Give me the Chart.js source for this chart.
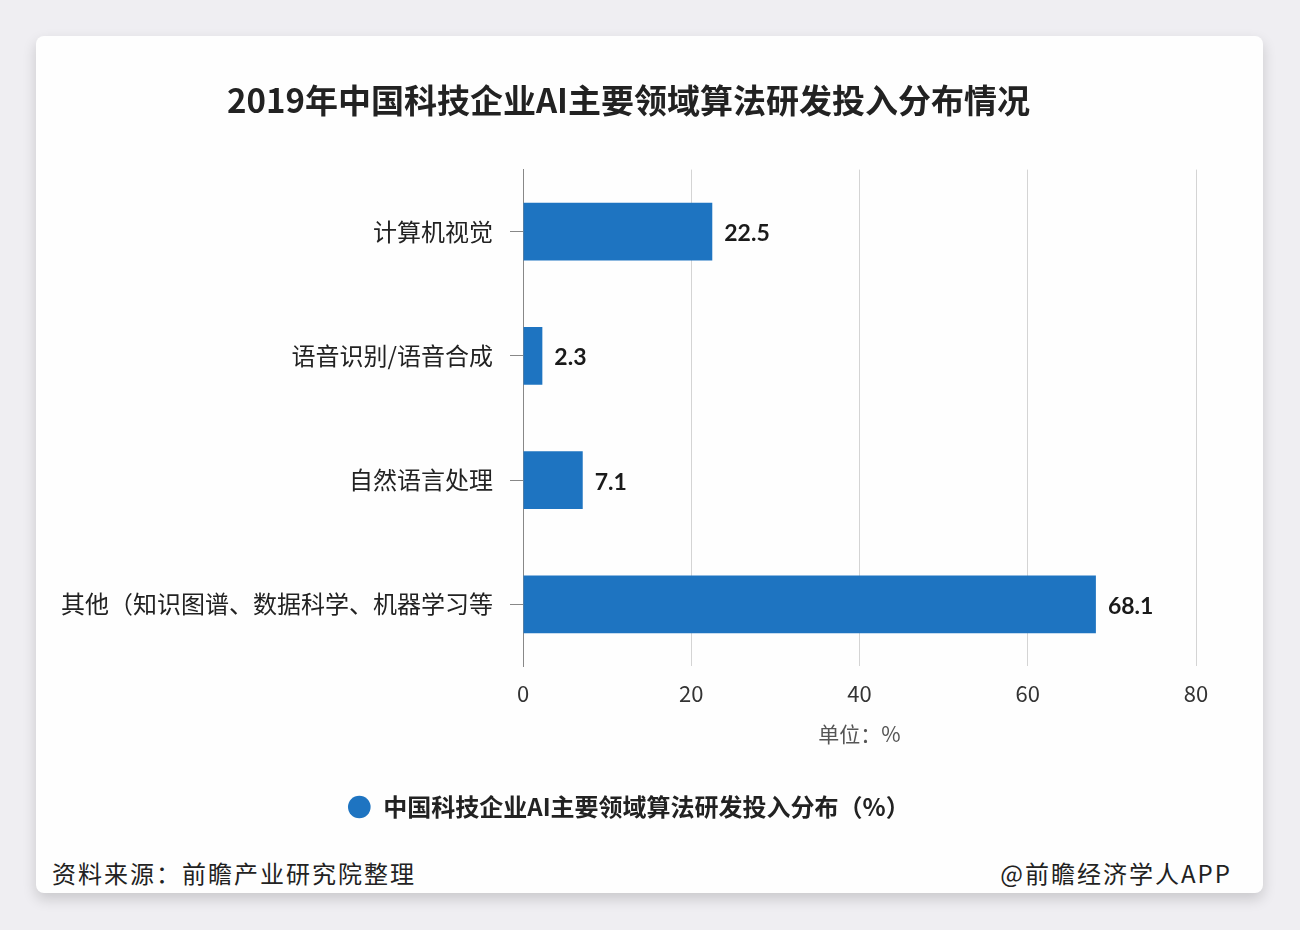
<!DOCTYPE html>
<html><head><meta charset="utf-8">
<script src="https://cdn.jsdelivr.net/npm/chart.js@4/dist/chart.umd.min.js"></script>
<style>
html,body{margin:0;padding:0;background:#efeef2;width:1300px;height:930px;overflow:hidden;}
#card{position:absolute;left:36px;top:36px;width:1227px;height:857px;background:#fefefe;border-radius:8px;box-shadow:0 6px 14px rgba(0,0,0,0.16);}
#wrap{position:absolute;left:25px;top:0;width:1171px;height:800px;}
.foot{position:absolute;top:825px;font-family:"Noto Sans CJK SC";font-size:24px;letter-spacing:2px;line-height:24px;color:#222;white-space:nowrap;}
</style></head>
<body>
<div id="card">
  <div id="wrap"><canvas id="c" width="1171" height="800"></canvas></div>
  <div class="foot" style="left:16px;">资料来源：前瞻产业研究院整理</div>
  <div class="foot" style="right:31px;">@前瞻经济学人APP</div>
</div>
<script>
const categories = ['计算机视觉', '语音识别/语音合成', '自然语言处理', '其他（知识图谱、数据科学、机器学习等'];
const values = [22.5, 2.3, 7.1, 68.1];
const xTickValues = [0, 20, 40, 60, 80];
const seriesName = '中国科技企业AI主要领域算法研发投入分布（%）';
const chartTitle = '2019年中国科技企业AI主要领域算法研发投入分布情况';
const unitLabel = '单位：%';

const CJK = '"Noto Sans CJK SC", "Noto Sans", sans-serif';

const valueLabels = {
  id: 'valueLabels',
  afterDatasetsDraw(chart) {
    const ctx = chart.ctx;
    const meta = chart.getDatasetMeta(0);
    ctx.save();
    ctx.font = 'bold 23px Lato, "Noto Sans", sans-serif';
    ctx.fillStyle = '#1a1a1a';
    ctx.textAlign = 'left';
    ctx.textBaseline = 'middle';
    meta.data.forEach((bar, i) => {
      ctx.fillText(String(chart.data.datasets[0].data[i]), bar.x + 12, bar.y + 2);
    });
    ctx.restore();
  }
};

new Chart(document.getElementById('c'), {
  type: 'bar',
  data: {
    labels: categories,
    datasets: [{
      label: seriesName,
      data: values,
      backgroundColor: '#1e74c1',
      borderWidth: 0,
      barPercentage: 0.465,
      categoryPercentage: 1
    }]
  },
  options: {
    indexAxis: 'y',
    responsive: false,
    animation: false,
    devicePixelRatio: 1,
    layout: { padding: { left: 0, right: 36, top: 0, bottom: 7 } },
    scales: {
      x: {
        min: xTickValues[0],
        max: xTickValues[xTickValues.length - 1],
        afterBuildTicks: (scale) => { scale.ticks = xTickValues.map(v => ({ value: v })); },
        ticks: { font: { family: CJK, size: 22 }, color: '#333', padding: 14 },
        grid: { color: '#d4d4d4', lineWidth: 1, drawTicks: false },
        border: { display: false },
        title: { display: true, text: unitLabel, font: { family: CJK, size: 21 }, color: '#555', padding: { top: 1, bottom: 38 } }
      },
      y: {
        afterFit: (scale) => { scale.width = 462; },
        ticks: { font: { family: CJK, size: 24 }, color: '#222', padding: 17 },
        grid: { drawOnChartArea: false, offset: false, tickLength: 13, color: '#888', lineWidth: 1 },
        border: { display: true, color: '#888', width: 1 }
      }
    },
    plugins: {
      title: {
        display: true,
        text: chartTitle,
        font: { family: CJK, size: 33, weight: 'bold' },
        color: '#222',
        padding: { top: 45, bottom: 49 }
      },
      legend: {
        position: 'bottom',
        labels: {
          usePointStyle: true,
          pointStyle: 'circle',
          boxWidth: 24,
          boxHeight: 16,
          font: { family: CJK, size: 24, weight: 'bold' },
          color: '#222',
          padding: 10
        }
      },
      tooltip: { enabled: false }
    }
  },
  plugins: [valueLabels]
});
</script>
</body></html>
